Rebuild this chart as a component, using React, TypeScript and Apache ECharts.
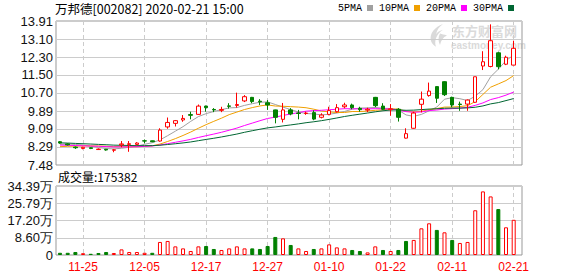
import React, { useEffect, useRef } from 'react';
import * as echarts from 'echarts';

const dates = [
  '11-20', '11-21', '11-22', '11-25', '11-26', '11-27', '11-28', '11-29', '12-02', '12-03',
  '12-04', '12-05', '12-06', '12-09', '12-10', '12-11', '12-12', '12-13', '12-16', '12-17',
  '12-18', '12-19', '12-20', '12-23', '12-24', '12-25', '12-26', '12-27', '12-30', '12-31',
  '01-02', '01-03', '01-06', '01-07', '01-08', '01-10', '01-13', '01-14', '01-15', '01-16',
  '01-17', '01-20', '01-21', '01-22', '01-23', '02-03', '02-04', '02-05', '02-06', '02-07',
  '02-10', '02-11', '02-12', '02-13', '02-14', '02-17', '02-18', '02-19', '02-20', '02-21',
];

// [open, close, low, high]
const ohlc = [
  [8.52, 8.46, 8.43, 8.55], [8.42, 8.38, 8.35, 8.45], [8.28, 8.25, 8.20, 8.31], [8.22, 8.27, 8.18, 8.29],
  [8.25, 8.22, 8.19, 8.27], [8.17, 8.19, 8.15, 8.22], [8.18, 8.15, 8.12, 8.19], [8.14, 8.16, 8.05, 8.20],
  [8.38, 8.42, 8.27, 8.55], [8.40, 8.43, 8.07, 8.55], [8.40, 8.46, 8.36, 8.50], [8.56, 8.55, 8.45, 8.62],
  [8.56, 8.52, 8.50, 8.57], [8.55, 9.04, 8.52, 9.12], [9.18, 9.38, 9.10, 9.60], [9.34, 9.46, 9.20, 9.49],
  [9.49, 9.56, 9.41, 9.71], [9.73, 9.70, 9.52, 9.86], [9.74, 10.11, 9.72, 10.18], [10.11, 10.04, 9.86, 10.13],
  [9.96, 9.94, 9.84, 10.02], [9.92, 9.96, 9.84, 10.08], [10.12, 10.10, 10.00, 10.24], [10.14, 10.18, 10.04, 10.71],
  [10.34, 10.53, 10.29, 10.60], [10.50, 10.31, 10.24, 10.52], [10.33, 10.30, 10.16, 10.42], [10.26, 10.16, 9.94, 10.38],
  [9.94, 9.61, 9.34, 9.95], [9.52, 9.94, 9.38, 10.25], [9.94, 9.76, 9.70, 10.02], [9.80, 9.78, 9.52, 9.94],
  [9.78, 9.80, 9.72, 9.86], [9.82, 9.53, 9.48, 9.92], [9.61, 9.71, 9.56, 9.79], [9.74, 9.91, 9.70, 10.08],
  [9.86, 10.04, 9.82, 10.20], [10.08, 10.16, 10.01, 10.26], [10.16, 10.04, 9.97, 10.22], [10.01, 9.95, 9.86, 10.08],
  [9.93, 9.97, 9.84, 10.04], [10.50, 10.13, 10.06, 10.52], [10.11, 9.97, 9.94, 10.24], [9.95, 9.99, 9.68, 10.20],
  [9.97, 9.61, 9.42, 10.02], [8.68, 8.88, 8.66, 9.12], [9.12, 9.80, 9.10, 9.86], [10.19, 10.42, 9.83, 10.76],
  [10.58, 10.78, 10.53, 11.16], [10.98, 10.46, 10.25, 10.99], [11.20, 10.62, 10.56, 11.22], [10.50, 10.16, 10.06, 10.53],
  [10.20, 10.18, 9.90, 10.31], [10.20, 10.38, 9.90, 10.41], [10.28, 11.42, 10.26, 11.42], [11.90, 12.09, 11.72, 12.56],
  [11.88, 13.03, 11.84, 13.76], [12.49, 11.87, 11.75, 12.54], [11.98, 12.29, 11.94, 12.36], [11.94, 12.69, 11.94, 13.03],
];

const volumes = [
  11000, 11000, 15000, 9000, 6000, 10000, 15000, 10000, 28000, 15000,
  15000, 11000, 11000, 65000, 70000, 43000, 33000, 20000, 43000, 45000,
  30000, 25000, 33000, 43000, 33000, 33000, 30000, 45000, 90000, 83000,
  50000, 33000, 20000, 30000, 33000, 53000, 38000, 33000, 25000, 20000,
  13000, 43000, 25000, 20000, 25000, 70000, 75000, 133000, 158000, 125000,
  113000, 75000, 60000, 65000, 223000, 317000, 292000, 229000, 138000, 175382,
];

// closes of the 29 sessions before the first visible one (needed for the moving averages)
const prevCloses = [
  8.72, 8.68, 8.70, 8.64, 8.66, 8.62, 8.70, 8.66, 8.64, 8.68,
  8.56, 8.52, 8.48, 8.44, 8.40, 8.46, 8.42, 8.38, 8.40, 8.34,
  8.24, 8.16, 8.20, 8.18, 8.22, 8.30, 8.34, 8.40, 8.50,
];

const priceTicks = ['7.48', '8.29', '9.09', '9.89', '10.70', '11.50', '12.30', '13.10', '13.91'];
const volTicks = ['0', '8.60万', '17.20万', '25.79万', '34.39万'];
const volMax = 343900;
const labelDates = ['11-25', '12-05', '12-17', '12-27', '01-10', '01-22', '02-11', '02-21'];
const maPeriods = [5, 10, 20, 30];
const maNames = ['5PMA', '10PMA', '20PMA', '30PMA'];
const maColors = ['#a0a0a0', '#f0a000', '#ff00ff', '#006633'];

const UP = '#ff0000';
const DOWN = '#008000';

let logoRegistered = false;
function registerLogo() {
  if (logoRegistered) return;
  logoRegistered = true;
  const d = 'M15 0 C7 3 1 10 3 18 C4 21 6 23 8 24 C6 18 8 11 15 6 C11 7 9 9 8 11 C9 6 11 3 15 0 Z M12 10 C10 14 10 18 12 22 C13 17 15 14 19 12 C16 11 14 11 12 10 Z';
  echarts.graphic.registerShape('emlogo', echarts.graphic.extendPath(d, {}) as any);
}

export default function App() {
  const ref = useRef<HTMLDivElement>(null);

  useEffect(() => {
    if (!ref.current) return;
    registerLogo();
    const chart = echarts.init(ref.current, null, { renderer: 'svg' });

    const closes = ohlc.map((c) => c[1]);
    const all = prevCloses.concat(closes);
    const off = prevCloses.length;
    const maSeries = maPeriods.map((p, k) => ({
      name: maNames[k],
      type: 'line',
      xAxisIndex: 0,
      yAxisIndex: 0,
      color: maColors[k],
      symbol: 'none',
      lineStyle: { width: 1, color: maColors[k] },
      z: 3,
      data: closes.map((_, i) => {
        let s = 0;
        for (let j = i + off - p + 1; j <= i + off; j++) s += all[j];
        return [i, +(s / p).toFixed(3)];
      }),
    }));

    const labelIdx = labelDates.map((d) => dates.indexOf(d));
    const priceVals = priceTicks.map(Number);
    const volInterval = volMax / (volTicks.length - 1);

    const volData = volumes.map((v, i) => {
      const prev = i === 0 ? prevCloses[prevCloses.length - 1] : closes[i - 1];
      const up = closes[i] >= prev;
      return {
        value: [i, v],
        itemStyle: up
          ? { color: '#ffffff', borderColor: UP, borderWidth: 1 }
          : { color: DOWN, borderColor: DOWN, borderWidth: 1 },
      };
    });

    const xCommon = {
      type: 'value',
      min: -0.52,
      max: 60.08,
      axisLine: { show: false },
      axisTick: { show: false, customValues: labelIdx },
      splitLine: { show: true, lineStyle: { color: '#cccccc', type: [4, 3], width: 1 } },
    };

    const option: any = {
      animation: false,
      backgroundColor: '#ffffff',
      textStyle: { fontFamily: '"Liberation Sans", Arial, sans-serif' },
      title: [
        {
          text: '万邦德[002082] 2020-02-21 15:00',
          left: 55,
          top: 2,
          padding: 0,
          textStyle: { fontSize: 12.5, fontWeight: 'normal', color: '#000', fontFamily: '"Noto Sans CJK SC", sans-serif' },
        },
        {
          text: '成交量:' + volumes[volumes.length - 1],
          left: 58,
          top: 170,
          padding: 0,
          textStyle: { fontSize: 12, fontWeight: 'normal', color: '#000', fontFamily: '"Noto Sans CJK SC", sans-serif' },
        },
      ],
      legend: {
        data: maNames,
        left: 338,
        top: 3,
        padding: 0,
        align: 'right',
        icon: 'rect',
        itemWidth: 6,
        itemHeight: 6,
        itemGap: 6,
        selectedMode: false,
        textStyle: { fontSize: 10, color: '#000', fontFamily: '"Liberation Mono", "DejaVu Sans Mono", monospace' },
      },
      graphic: [
        { type: 'emlogo', x: 428, y: 24, scaleX: 1, scaleY: 0.95, z: -10, silent: true, style: { fill: '#dadada' } },
        { type: 'text', x: 452, y: 24, z: -10, silent: true, style: { text: '东方财富网', font: 'bold 13px "Noto Sans CJK SC"', fill: '#dadada', verticalAlign: 'top' } },
        { type: 'text', x: 451, y: 40, z: -10, silent: true, style: { text: 'eastmoney.com', font: 'bold 10px "Liberation Sans"', fill: '#dadada', verticalAlign: 'top' } },
      ],
      grid: [
        { left: 56, top: 21, width: 466, height: 144, show: true, borderColor: '#999', borderWidth: 1, backgroundColor: 'transparent' },
        { left: 56, top: 186, width: 466, height: 69, show: true, borderColor: '#999', borderWidth: 1, backgroundColor: 'transparent' },
      ],
      xAxis: [
        { ...xCommon, gridIndex: 0, axisLabel: { show: false, customValues: labelIdx } },
        {
          ...xCommon,
          gridIndex: 1,
          axisLabel: {
            show: true,
            customValues: labelIdx,
            formatter: (v: number) => dates[Math.round(v)],
            color: '#ff0000',
            fontSize: 12,
            margin: 6,
          },
        },
      ],
      yAxis: [
        {
          type: 'value',
          gridIndex: 0,
          min: priceVals[0],
          max: priceVals[priceVals.length - 1],
          axisLine: { show: false },
          axisTick: { show: false, customValues: priceVals },
          axisLabel: {
            customValues: priceVals,
            formatter: (v: number) => v.toFixed(2),
            color: '#111',
            fontSize: 13,
            margin: 3,
          },
          splitLine: { show: true, lineStyle: { color: '#cccccc', width: 1 } },
        },
        {
          type: 'value',
          gridIndex: 1,
          min: 0,
          max: volMax,
          interval: volInterval,
          axisLine: { show: false },
          axisTick: { show: false },
          axisLabel: {
            formatter: (v: number) => volTicks[Math.round(v / volInterval)],
            color: '#111',
            fontSize: 13,
            margin: 3,
          },
          splitLine: { show: true, lineStyle: { color: '#cccccc', width: 1 } },
        },
      ],
      series: [
        {
          name: 'K',
          type: 'candlestick',
          xAxisIndex: 0,
          yAxisIndex: 0,
          barWidth: 4,
          z: 4,
          itemStyle: { color: '#ffffff', color0: DOWN, borderColor: UP, borderColor0: DOWN, borderWidth: 1 },
          data: ohlc.map((c, i) => [i, c[0], c[1], c[2], c[3]]),
        },
        ...maSeries,
        {
          name: 'VOL',
          type: 'bar',
          xAxisIndex: 1,
          yAxisIndex: 1,
          barWidth: 4,
          data: volData,
        },
      ],
    };

    chart.setOption(option);
    return () => chart.dispose();
  }, []);

  return <div ref={ref} style={{ position: 'fixed', left: 0, top: 0, width: 578, height: 276 }} />;
}
